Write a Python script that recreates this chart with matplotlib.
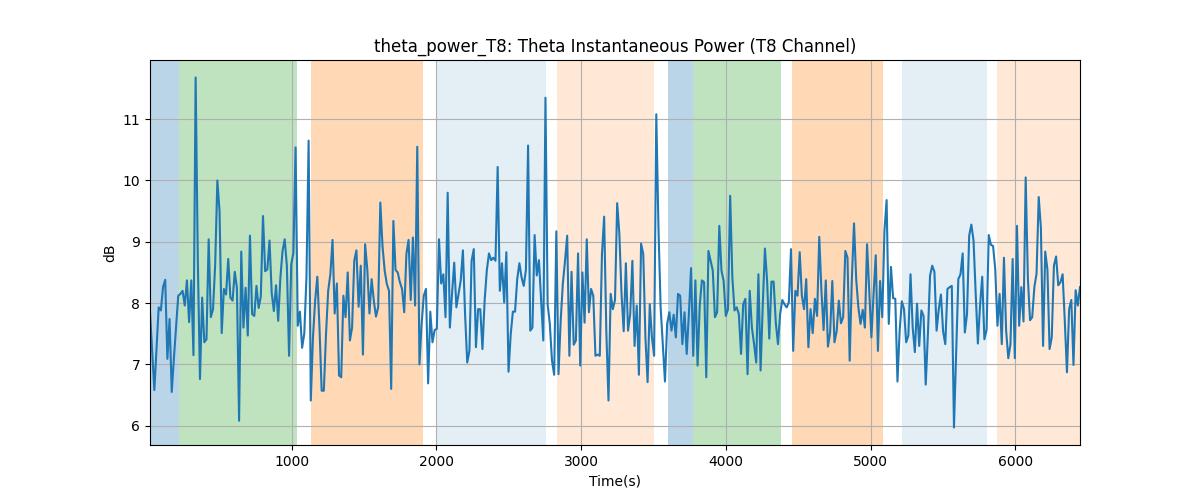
import numpy as np
import matplotlib
matplotlib.use("Agg")
import matplotlib.pyplot as plt

t_start, t_end = 21, 6446

power_db = [
    # 0 - ~1040
    7.85, 7.2, 6.58, 7.25, 7.93, 7.88, 8.26, 8.38, 7.09, 7.74, 6.55, 7.1, 7.6, 8.12, 8.15, 8.2,
    7.96, 8.37, 7.69, 8.37, 7.15, 11.68, 8.7, 6.76, 8.09, 7.36, 7.41, 9.04, 7.77, 7.9, 8.63, 10.0,
    9.5, 7.51, 8.23, 8.14, 8.72, 8.09, 8.04, 8.51, 8.25, 6.08, 8.84, 7.6, 8.25, 7.47, 9.1, 7.82,
    7.79, 8.28, 7.92, 8.11, 9.42, 8.52, 8.55, 9.02, 8.17, 7.87, 8.29, 7.71, 8.41, 8.85, 9.04, 8.6,
    7.14, 8.63, 8.82, 10.54, 7.63,
    # ~1040 - ~2060
    7.86, 7.27, 7.5, 8.42, 10.65, 6.41, 7.44, 8.04, 8.43, 7.6, 6.57, 6.57, 7.49, 8.2, 8.47, 9.03,
    7.83, 8.32, 6.82, 6.79, 8.12, 7.77, 8.5, 7.39, 7.6, 8.69, 8.86, 7.94, 8.61, 7.16, 8.96, 8.55,
    7.83, 8.39, 8.04, 7.78, 7.93, 9.64, 8.93, 8.53, 8.31, 8.2, 6.6, 9.34, 8.54, 8.5, 8.34, 8.23,
    7.85, 8.8, 9.03, 8.05, 9.07, 7.96, 10.55, 7.0, 7.66, 8.12, 8.23, 6.69, 7.86, 7.36, 7.56, 7.58,
    9.04, 8.32, 8.47, 7.77, 9.8,
    # ~2060 - ~3080
    7.6, 8.15, 8.66, 7.93, 8.15, 8.37, 8.86, 7.82, 7.03, 7.22, 8.69, 8.88, 7.28, 7.9, 7.9, 7.25,
    8.04, 8.53, 8.81, 8.7, 8.74, 8.69, 10.22, 8.2, 8.65, 8.01, 8.83, 6.88, 7.49, 7.86, 7.86, 8.39,
    8.65, 8.42, 8.28, 8.54, 10.57, 7.55, 7.6, 9.11, 8.45, 8.7, 8.04, 7.39, 11.35, 7.98, 7.66, 7.06,
    6.83, 9.17, 6.84, 7.71, 8.32, 8.69, 9.1, 7.14, 8.51, 7.32, 7.39, 8.81, 6.98, 8.5, 7.68, 9.04,
    7.85, 8.23, 8.12, 7.14, 7.16,
    # ~3080 - ~4110
    7.14, 8.8, 9.41, 7.55, 6.41, 8.15, 7.9, 8.05, 9.63, 9.13, 8.15, 7.54, 8.65, 7.55, 7.82, 8.69,
    7.3, 7.96, 6.83, 8.97, 8.8, 7.44, 6.71, 7.98, 7.44, 7.14, 11.08, 9.23, 7.93, 7.33, 6.72, 7.66,
    7.85, 7.55, 7.81, 7.44, 8.15, 8.12, 7.33, 7.85, 7.17, 7.82, 8.57, 7.14, 8.37, 6.98, 7.96, 8.37,
    8.34, 6.79, 8.85, 8.69, 8.53, 7.77, 7.85, 9.26, 8.53, 8.36, 7.79, 7.9, 9.75, 8.42, 7.88, 7.93,
    7.82, 7.17, 7.98, 8.07, 6.84, 8.2,
    # ~4110 - ~5150
    7.6, 7.33, 7.03, 8.47, 6.9, 7.96, 8.89, 8.36, 7.42, 8.35, 8.35, 7.68, 7.33, 7.82, 8.05, 7.98,
    7.93, 8.01, 8.88, 7.22, 8.2, 8.12, 8.83, 8.12, 7.9, 8.39, 7.28, 7.9, 7.51, 8.07, 7.79, 9.08,
    8.2, 7.56, 8.37, 7.29, 7.52, 8.36, 7.36, 7.54, 8.04, 7.67, 7.77, 8.85, 8.74, 7.06, 8.39, 9.3,
    8.39, 7.93, 7.66, 7.89, 7.6, 8.96, 8.2, 7.44, 8.15, 8.78, 7.22, 8.36, 7.77, 9.18, 9.68, 7.66,
    8.59, 8.08, 8.07, 6.72, 7.55,
    # ~5150 - end
    8.03, 7.9, 7.36, 7.47, 8.47, 7.6, 7.2, 7.99, 7.3, 7.88, 7.79, 6.67, 7.49, 8.45, 8.61, 8.51,
    7.55, 7.9, 8.14, 7.54, 7.33, 8.23, 8.26, 8.28, 5.97, 7.17, 8.39, 8.47, 8.81, 7.52, 7.82, 9.1,
    9.28, 9.02, 8.15, 7.34, 7.96, 8.43, 7.41, 7.56, 9.11, 8.95, 8.93, 8.55, 7.63, 8.15, 7.33, 8.74,
    7.55, 7.1, 7.33, 8.72, 7.1, 9.26, 7.63, 8.26, 7.7, 10.05, 8.42, 7.72, 7.77, 8.26, 8.48, 9.73,
    9.23, 7.3, 8.84, 8.55, 7.25, 7.44, 8.61, 8.76, 8.29, 8.34, 8.47, 7.71, 6.87, 7.9, 8.05, 6.99,
    8.21, 7.96, 8.26,
]

span_starts = [21, 219, 1132, 2006, 2836, 3602, 3770, 4458, 5217, 5874]
span_ends = [219, 1037, 1910, 2758, 3501, 3770, 4381, 5088, 5802, 6446]
span_colors = ["tab:blue", "tab:green", "tab:orange", "tab:blue", "tab:orange",
               "tab:blue", "tab:green", "tab:orange", "tab:blue", "tab:orange"]
span_alphas = [0.3, 0.3, 0.3, 0.12, 0.17, 0.3, 0.3, 0.3, 0.12, 0.17]

time = np.linspace(t_start, t_end, len(power_db))

fig, ax = plt.subplots(figsize=(12, 5), dpi=100)
for s, e, c, a in zip(span_starts, span_ends, span_colors, span_alphas):
    ax.axvspan(s, e, color=c, alpha=a, linewidth=0)
ax.plot(time, power_db, color="tab:blue", linewidth=1.5)
ax.set_xlim(t_start, t_end)
ax.grid(True)
ax.set_title("theta_power_T8: Theta Instantaneous Power (T8 Channel)")
ax.set_xlabel("Time(s)")
ax.set_ylabel("dB")
fig.savefig("out.png", dpi=100)
